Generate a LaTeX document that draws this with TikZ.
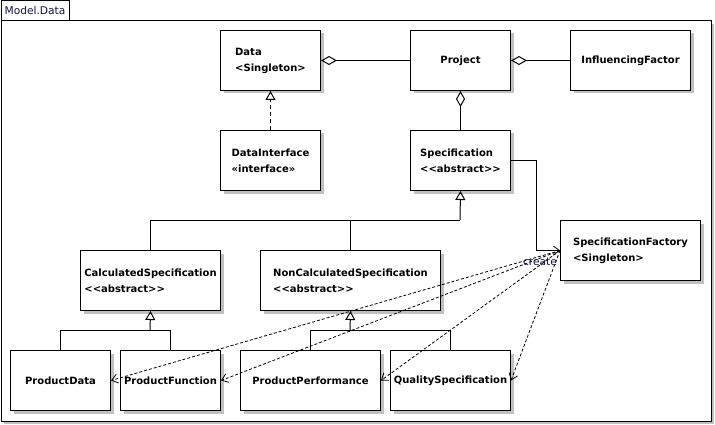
\documentclass[tikz,border=0pt]{standalone}
\usepackage{fontspec}
\setmainfont{DejaVu Sans}
\usetikzlibrary{arrows.meta,shadows}
\definecolor{navy}{RGB}{20,20,70}
\definecolor{shade}{RGB}{192,192,192}
\begin{document}
\begin{tikzpicture}[x=1pt,y=-1pt,line width=1pt,
  box/.style={draw, fill=white, anchor=north west, inner sep=0pt, align=left,
    font=\fontsize{10}{16}\selectfont\bfseries,
    drop shadow={shadow xshift=3pt, shadow yshift=-3pt, fill=shade, opacity=1}},
  agg/.style={{Diamond[open,length=16pt,width=9pt]}-},
  gen/.style={-{Triangle[open,length=9pt,width=10pt]}},
  nav/.style={-{Straight Barb[length=6pt,width=9pt,line width=0.8pt]}},
  dep/.style={dash pattern=on 3pt off 2pt, line width=0.8pt, -{Straight Barb[length=6pt,width=9pt,line width=0.8pt]}},
  small/.style={font=\fontsize{10.67}{13}\selectfont, text=navy}]
\useasboundingbox (0,0) rectangle (715,425);
% package frame
\node[draw, fill=white, anchor=north west, minimum width=710pt, minimum height=400pt, inner sep=0pt,
  drop shadow={shadow xshift=3pt, shadow yshift=-3pt, fill=shade, opacity=1}] (frame) at (0.5,20.5) {};
\node[draw, fill=white, anchor=north west, minimum width=68pt, minimum height=20pt, inner sep=0pt, small] (tab) at (0.5,0.5) {Model.Data};
% classes
\node[box, minimum width=100pt, minimum height=60pt] (data) at (220,30) {Data\\<Singleton>};
\node[box, minimum width=100pt, minimum height=60pt] (dataif) at (220,130) {DataInterface\\«interface»};
\node[box, minimum width=100pt, minimum height=60pt] (project) at (410,30) {Project};
\node[box, minimum width=120pt, minimum height=60pt] (infl) at (570,30) {InfluencingFactor};
\node[box, minimum width=100pt, minimum height=60pt] (spec) at (410,130) {Specification\\<{}<abstract>{}>};
\node[box, minimum width=140pt, minimum height=60pt] (factory) at (560,220) {SpecificationFactory\\<Singleton>};
\node[box, minimum width=140pt, minimum height=60pt] (calc) at (80,250) {CalculatedSpecification\\<{}<abstract>{}>};
\node[box, minimum width=180pt, minimum height=60pt] (noncalc) at (260,250) {NonCalculatedSpecification\\<{}<abstract>{}>};
\node[box, minimum width=100pt, minimum height=60pt] (pdata) at (10,350) {ProductData};
\node[box, minimum width=100pt, minimum height=60pt] (pfunc) at (120,350) {ProductFunction};
\node[box, minimum width=140pt, minimum height=60pt] (pperf) at (240,350) {ProductPerformance};
\node[box, minimum width=120pt, minimum height=60pt] (qspec) at (390,350) {QualitySpecification};
% aggregations
\draw[agg] (data.east) -- (project.west);
\draw[agg] (project.east) -- (infl.west);
\draw[agg] (project.south) -- (spec.north);
% realization
\draw[gen, dash pattern=on 4pt off 3pt] (dataif.north) -- (data.south);
% generalizations
\coordinate (j1) at (460,220);
\coordinate (j2) at (150,330);
\coordinate (j3) at (350,330);
\draw[gen] (j1) -- (spec.south);
\draw (calc.north) |- (j1);
\draw (noncalc.north) -- (noncalc.north |- j1);
\draw[gen] (j2) -- (calc.south);
\draw (pdata.north) |- (j2);
\draw (pfunc.north) |- (j2);
\draw[gen] (j3) -- (noncalc.south);
\draw (pperf.north) |- (j3);
\draw (qspec.north) |- (j3);
% association to factory
\draw[nav] (spec.east) -- ++(25,0) |- (factory.west);
% create dependencies
\draw[dep] (factory.west) -- (pdata.east);
\draw[dep] (factory.west) -- (pfunc.east);
\draw[dep] (factory.west) -- (pperf.east);
\draw[dep] (factory.west) -- (qspec.east);
\node[small, fill=none, inner sep=0pt] (create) at (540,262) {create};
\end{tikzpicture}
\end{document}
